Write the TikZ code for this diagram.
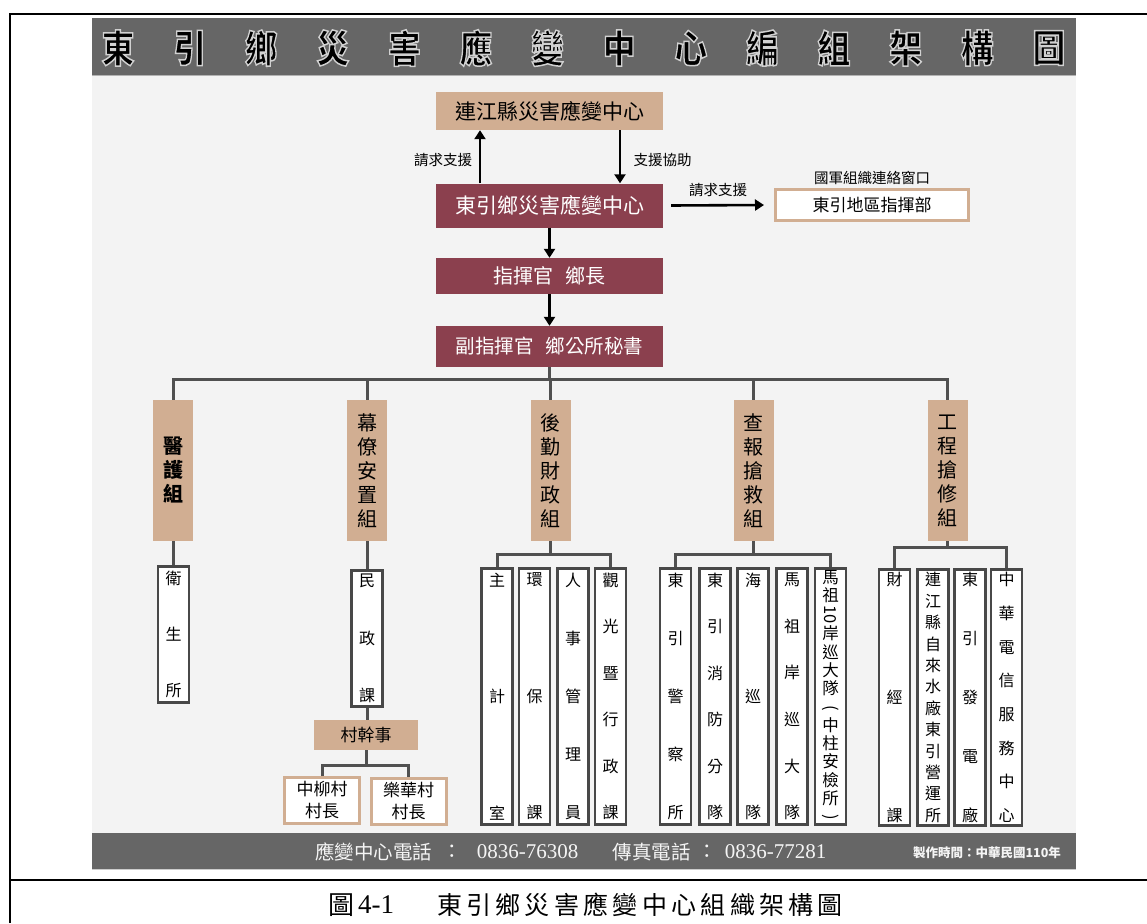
\documentclass[tikz,border=0pt]{standalone}
\usepackage{fontspec}
\setmainfont{Noto Sans CJK TC}
\newfontfamily\lsf{Liberation Serif}
\usepackage{graphicx}
\usetikzlibrary{arrows.meta}
\definecolor{tanc}{RGB}{209,174,146}
\definecolor{maroonc}{RGB}{139,64,78}
\definecolor{barc}{RGB}{102,102,102}
\definecolor{panelc}{RGB}{243,243,243}
\definecolor{linec}{RGB}{80,80,80}
\definecolor{boxc}{RGB}{72,72,72}
\definecolor{foottext}{RGB}{245,245,245}
\newcommand\fs[1]{\fontsize{#1}{#1}\selectfont}
\newcommand\fsb[2]{\fontsize{#1}{#2}\selectfont}
\newcommand\VF{\par\vfill}
\newcommand\VT[2]{\parbox[c][#1][s]{30pt}{\centering #2}}
\newcommand\rot[1]{\rotatebox[origin=c]{-90}{#1}}
\newcommand\glow[1]{\special{pdf:literal direct 2 Tr 1.5 w 0.82 G}#1\special{pdf:literal direct 0 Tr}}
\tikzset{
  tanbox/.style={fill=tanc, inner sep=0pt, text=black},
  redbox/.style={fill=maroonc, inner sep=0pt, text=white, minimum width=227, font=\fs{21}},
  grpbox/.style={fill=tanc, inner sep=0pt, text=black, minimum width=40, minimum height=141, align=center, font=\fsb{20}{24}},
  subbox/.style={draw=boxc, line width=2.8, fill=white, inner sep=0pt, minimum width=31, minimum height=#1, font=\fs{16}},
  villbox/.style={draw=tanc, line width=3, fill=white, inner sep=0pt, minimum width=75, minimum height=46, align=center, font=\fsb{17}{22}},
  link/.style={draw=linec, line width=3},
  arr/.style={draw=black, line width=2.6, -{Triangle[length=9pt,width=11pt]}},
  lbl/.style={inner sep=0pt, font=\fs{14.5}},
  titlech/.style={inner sep=0pt, text=black, font=\fs{38}\bfseries},
  foot/.style={inner sep=0pt, text=foottext, font=\fs{19.5}},
  frame/.style={draw=black, line width=2},
}
\begin{document}
\begin{tikzpicture}[x=1pt, y=-1pt]
\useasboundingbox (0,0) rectangle (1147,923);
% outer frame and panel
\fill[white] (0,0) rectangle (1147,923);
\fill[panelc] (92,76) rectangle (1076,833);
\fill[barc] (92,18) rectangle (1076,76);
\draw[gray!60, line width=1] (92,76) -- (1076,76);
\fill[barc] (92,833) rectangle (1076,869);
\draw[gray!40, line width=1] (92,869.5) -- (1076,869.5);
\draw[frame] (10,923) -- (10,14) -- (1147,14);
\draw[frame] (10,880) -- (1147,880);

% title
\foreach \tch [count=\i from 0] in {東,引,鄉,災,害,應,變,中,心,編,組,架,構,圖}
  \node[titlech] (t\i) at (118+71.6*\i, 48) {\scalebox{0.86}[1]{\glow{\tch}}};

% top part
\node[tanbox, minimum width=227, minimum height=38, font=\fs{21}] (lj) at (549.5,111) {連江縣災害應變中心};
\node[redbox, minimum height=44] (dy) at (549.5,205.5) {東引鄉災害應變中心};
\node[redbox, minimum height=36, font=\fs{20}] (zh) at (549.5,276) {指揮官\hspace{12pt}鄉長};
\node[redbox, minimum height=41, font=\fs{19.5}] (fz) at (549.5,346.5) {副指揮官\hspace{12pt}鄉公所秘書};
\node[draw=tanc, line width=3, fill=white, inner sep=0pt, minimum width=193, minimum height=31, font=\fs{17}] (cmd) at (872,205) {東引地區指揮部};

\node[lbl] (l1) at (443,160) {請求支援};
\node[lbl] (l2) at (662.5,160) {支援協助};
\node[lbl] (l3) at (718,190) {請求支援};
\node[lbl] (l4) at (872,178) {國軍組織連絡窗口};

\draw[arr] ([xshift=-69.5pt]dy.north) -- ([xshift=-69.5pt]lj.south);
\draw[arr] ([xshift=70.5pt]lj.south) -- ([xshift=70.5pt]dy.north);
\draw[arr] ([xshift=8pt]dy.east) -- ([xshift=-10pt]cmd.west);
\draw[arr] (dy.south) -- (zh.north);
\draw[arr] (zh.south) -- (fz.north);

% groups
\node[grpbox, font=\fsb{20}{24}\bfseries] (g1) at (173,470.5) {醫\\護\\組};
\node[grpbox] (g2) at (367,470.5) {幕\\僚\\安\\置\\組};
\node[grpbox] (g3) at (550.5,470.5) {後\\勤\\財\\政\\組};
\node[grpbox] (g4) at (753.5,470.5) {查\\報\\搶\\救\\組};
\node[grpbox] (g5) at (947.5,470.5) {工\\程\\搶\\修\\組};

\coordinate (bus) at (549.5,379);
\draw[link] (fz.south) -- (bus);
\draw[link] (g1.north) |- (bus) -| (g5.north);
\draw[link] (g2.north) -- (g2.north |- bus);
\draw[link] (g3.north) -- (g3.north |- bus);
\draw[link] (g4.north) -- (g4.north |- bus);

% sub units
\node[subbox=136] (s11) at (173.5,634.5) {\VT{126pt}{衛\VF 生\VF 所}};
\node[subbox=136] (s21) at (367,638.5) {\VT{127pt}{民\VF 政\VF 課}};
\node[tanbox, minimum width=104, minimum height=30, font=\fs{17}] (vk) at (366,735) {村幹事};
\node[villbox] (v1) at (322,800.5) {中柳村\\村長};
\node[villbox] (v2) at (408.5,801) {樂華村\\村長};

\node[subbox=256] (s31) at (497,696.5) {\VT{246pt}{主\VF 計\VF 室}};
\node[subbox=256] (s32) at (534.5,696.5) {\VT{246pt}{環\VF 保\VF 課}};
\node[subbox=256] (s33) at (573,696.5) {\VT{246pt}{人\VF 事\VF 管\VF 理\VF 員}};
\node[subbox=256] (s34) at (610.5,696.5) {\VT{246pt}{觀\VF 光\VF 暨\VF 行\VF 政\VF 課}};

\node[subbox=256] (s41) at (675.5,696.5) {\VT{246pt}{東\VF 引\VF 警\VF 察\VF 所}};
\node[subbox=256] (s42) at (715,696.5) {\VT{246pt}{東\VF 引\VF 消\VF 防\VF 分\VF 隊}};
\node[subbox=256] (s43) at (753,696.5) {\VT{246pt}{海\VF 巡\VF 隊}};
\node[subbox=256] (s44) at (792,696.5) {\VT{246pt}{馬\VF 祖\VF 岸\VF 巡\VF 大\VF 隊}};
\node[subbox=256, font=\fs{16.5}] (s45) at (830.5,696.5) {\VT{252pt}{馬\VF 祖\VF \rot{10}\VF 岸\VF 巡\VF 大\VF 隊\VF \rot{(}\VF 中\VF 柱\VF 安\VF 檢\VF 所\VF \rot{)}}};

\node[subbox=256] (s51) at (894.5,697.5) {\VT{249pt}{財\VF 經\VF 課}};
\node[subbox=256] (s52) at (933,697.5) {\VT{249pt}{連\VF 江\VF 縣\VF 自\VF 來\VF 水\VF 廠\VF 東\VF 引\VF 營\VF 運\VF 所}};
\node[subbox=256] (s53) at (970,697.5) {\VT{249pt}{東\VF 引\VF 發\VF 電\VF 廠}};
\node[subbox=256] (s54) at (1006.5,697.5) {\VT{249pt}{中\VF 華\VF 電\VF 信\VF 服\VF 務\VF 中\VF 心}};

% sub connectors
\draw[link] (g1.south) -- (g1.south |- s11.north);
\draw[link] (g2.south) -- (g2.south |- s21.north);
\draw[link] (s21.south) -- (s21.south |- vk.north);
\coordinate (yv) at (0,765);
\draw[link] (vk.south) -- (vk.south |- yv);
\draw[link] (v1.north) |- (v2.north |- yv) -- (v2.north);

\coordinate (y3) at (0,554);
\draw[link] (g3.south) -- (g3.south |- y3);
\draw[link] (s31.north) |- (s34.north |- y3) -- (s34.north);
\draw[link] (g4.south) -- (g4.south |- y3);
\draw[link] (s41.north) |- (s45.north |- y3) -- (s45.north);
\coordinate (y5) at (0,547);
\draw[link] (g5.south) -- (g5.south |- y5);
\draw[link] (s51.north) |- (s54.north |- y5) -- (s54.north);

% footer
\node[foot] (f1) at (373.5,852) {應變中心電話};
\node[foot] (f2) at (452,852) {：};
\node[foot, font=\lsf\fs{21}] (f3) at (527.5,852) {0836-76308};
\node[foot] (f4) at (651.5,852) {傳真電話};
\node[foot] (f5) at (707,852) {：};
\node[foot, font=\lsf\fs{21}] (f6) at (775.5,852) {0836-77281};
\node[foot, font=\fs{12.5}\bfseries] (f7) at (987,853) {製作時間：中華民國110年};

% caption
\node[inner sep=0pt, font=\fs{26}] (c0) at (341,905) {圖};
\node[inner sep=0pt, font=\lsf\fs{27}] (c1) at (376,905) {4-1};
\foreach \tch [count=\i from 0] in {東,引,鄉,災,害,應,變,中,心,組,織,架,構,圖}
  \node[inner sep=0pt, font=\fs{25}] (cc\i) at (449.5+29.3*\i, 905) {\tch};
\end{tikzpicture}
\end{document}
